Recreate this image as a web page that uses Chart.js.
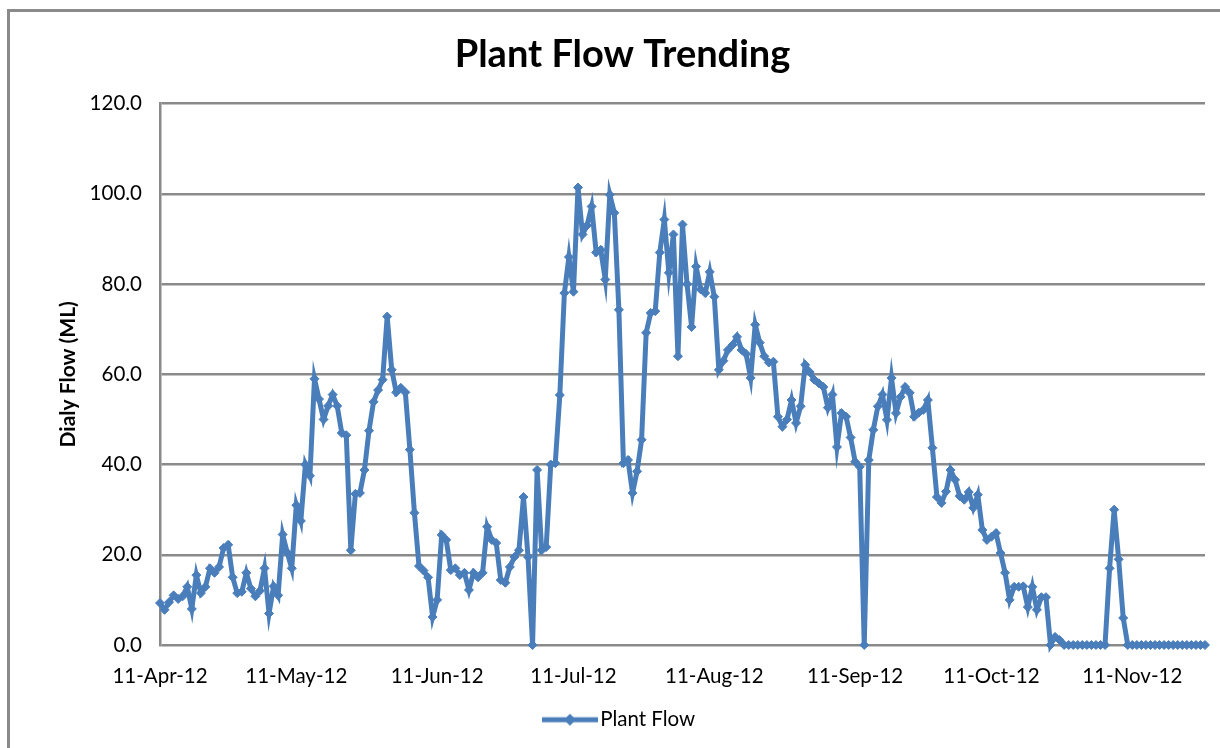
<!DOCTYPE html>
<html>
<head>
<meta charset="utf-8">
<title>Plant Flow Trending</title>
<script src="https://cdn.jsdelivr.net/npm/chart.js@4.4.1/dist/chart.umd.min.js"></script>
<style>
  html, body { margin: 0; padding: 0; background: #fff; overflow: hidden; }
  #wrap { position: relative; width: 1220px; height: 748px; }
  #frame { position: absolute; left: 7px; top: 9px; width: 1300px; height: 900px; border: 3px solid #8a8a8a; }
  #myChart { position: absolute; left: 0; top: 0; }
</style>
</head>
<body>
<div id="wrap">
  <div id="frame"></div>
  <canvas id="myChart" width="1220" height="748"></canvas>
</div>
<script>
// day offsets from 11-Apr-12 where the axis labels sit
const tickDays = [0, 30, 61, 91, 122, 153, 183, 214];
const tickLabels = ['11-Apr-12', '11-May-12', '11-Jun-12', '11-Jul-12', '11-Aug-12', '11-Sep-12', '11-Oct-12', '11-Nov-12'];

// daily plant flow (ML), one value per day starting 11-Apr-12
const plantFlow = [
    9.3, 7.8, 9.5, 11.0, 10.2, 10.8, 12.9, 8.0, 15.5, 11.5,
    12.9, 17.0, 16.0, 17.3, 21.5, 22.2, 15.0, 11.5, 11.8, 16.0,
    12.5, 10.8, 12.0, 17.0, 7.0, 13.0, 11.0, 24.5, 20.5, 17.0,
    31.0, 27.5, 40.0, 37.5, 59.0, 54.5, 50.0, 53.0, 55.5, 53.0,
    47.0, 46.5, 21.0, 33.5, 33.7, 38.8, 47.5, 53.9, 56.5, 58.8,
    72.8, 61.0, 56.0, 57.0, 56.0, 43.3, 29.3, 17.5, 16.5, 15.0,
    6.2, 10.0, 24.4, 23.3, 16.6, 17.0, 15.5, 16.0, 12.2, 16.0,
    15.0, 16.0, 26.2, 23.3, 22.6, 14.4, 13.8, 17.3, 19.5, 21.0,
    32.8, 19.5, 0, 38.8, 21.0, 21.7, 40.0, 40.3, 55.4, 78.0,
    86.0, 78.3, 101.4, 91.0, 93.0, 97.2, 87.0, 87.6, 81.0, 99.8,
    95.8, 74.3, 40.3, 41.0, 33.7, 38.5, 45.5, 69.2, 73.6, 74.0,
    87.0, 94.3, 82.5, 91.0, 64.0, 93.2, 80.0, 70.5, 83.9, 78.8,
    78.0, 82.7, 77.2, 61.0, 63.0, 65.4, 66.5, 68.3, 65.4, 64.5,
    59.2, 71.0, 67.0, 64.0, 62.6, 62.8, 50.6, 48.4, 50.0, 54.3,
    49.2, 52.9, 62.1, 60.5, 58.8, 58.0, 57.2, 52.6, 55.5, 43.9,
    51.4, 50.6, 46.0, 40.6, 39.5, 0, 41.0, 47.7, 52.9, 55.5,
    49.9, 59.2, 51.4, 55.0, 57.2, 55.9, 50.6, 51.5, 52.1, 54.3,
    43.7, 32.8, 31.5, 34.0, 38.8, 36.6, 33.0, 32.2, 33.9, 30.4,
    33.3, 25.5, 23.3, 24.0, 24.8, 20.4, 16.0, 10.0, 12.9, 12.9,
    13.0, 8.4, 12.9, 7.8, 10.6, 10.6, 0, 1.8, 1.1, 0,
    0, 0, 0, 0, 0, 0, 0, 0, 0, 17.0,
    30.0, 19.0, 6.0, 0, 0, 0, 0, 0, 0, 0,
    0, 0, 0, 0, 0, 0, 0, 0, 0, 0, 0
];

const lineBlue = '#4a7ebb';
const gridGrey = '#8a8a8a';

Chart.defaults.font.family = 'Lato, "Open Sans", sans-serif';
Chart.defaults.color = '#000';

// legend sample: a short line with a diamond in the middle
const legendMark = document.createElement('canvas');
legendMark.width = 56;
legendMark.height = 14;
const lm = legendMark.getContext('2d');
lm.fillStyle = lineBlue;
lm.fillRect(0, 4.5, 56, 5);
lm.beginPath();
lm.moveTo(28, 1); lm.lineTo(34, 7); lm.lineTo(28, 13); lm.lineTo(22, 7);
lm.closePath();
lm.fill();

const ctx = document.getElementById('myChart').getContext('2d');
const chart = new Chart(ctx, {
    type: 'line',
    data: {
        datasets: [{
            label: 'Plant Flow',
            data: plantFlow.map((v, i) => ({ x: i, y: v })),
            borderColor: lineBlue,
            backgroundColor: lineBlue,
            borderWidth: 5,
            pointStyle: 'rectRot',
            pointRadius: 4.5,
            pointBorderWidth: 1,
            tension: 0,
            clip: false
        }]
    },
    options: {
        responsive: false,
        animation: false,
        layout: { padding: { top: 12, left: 40, right: 15, bottom: 8 } },
        plugins: {
            title: {
                display: true,
                text: 'Plant Flow Trending',
                font: { size: 38, weight: 'bold' },
                padding: { top: 20, bottom: 26 }
            },
            legend: {
                position: 'bottom',
                labels: {
                    usePointStyle: true,
                    pointStyle: legendMark,
                    pointStyleWidth: 40,
                    padding: 10,
                    font: { size: 20.5 }
                }
            },
            tooltip: { enabled: false }
        },
        scales: {
            x: {
                type: 'linear',
                min: 0,
                max: plantFlow.length - 1,
                grid: { display: false, drawTicks: false },
                border: { display: false },
                afterFit: function (scale) { scale.height = 54.5; },
                afterBuildTicks: function (scale) {
                    scale.ticks = tickDays.map(d => ({ value: d }));
                },
                ticks: {
                    autoSkip: false,
                    maxRotation: 0,
                    padding: 19,
                    font: { size: 20.5 },
                    callback: function (value) { return tickLabels[tickDays.indexOf(value)]; }
                }
            },
            y: {
                min: 0,
                max: 120,
                afterFit: function (scale) { scale.width = 120; },
                grid: { color: gridGrey, lineWidth: 2.5, drawTicks: false },
                border: { display: true, color: gridGrey, width: 2.5 },
                title: {
                    display: true,
                    text: 'Dialy Flow (ML)',
                    font: { size: 21, weight: 'bold' },
                    padding: { top: 16, bottom: 0 }
                },
                ticks: {
                    stepSize: 20,
                    padding: 18,
                    font: { size: 20.5 },
                    callback: function (value) { return value.toFixed(1); }
                }
            }
        }
    }
});
</script>
</body>
</html>
